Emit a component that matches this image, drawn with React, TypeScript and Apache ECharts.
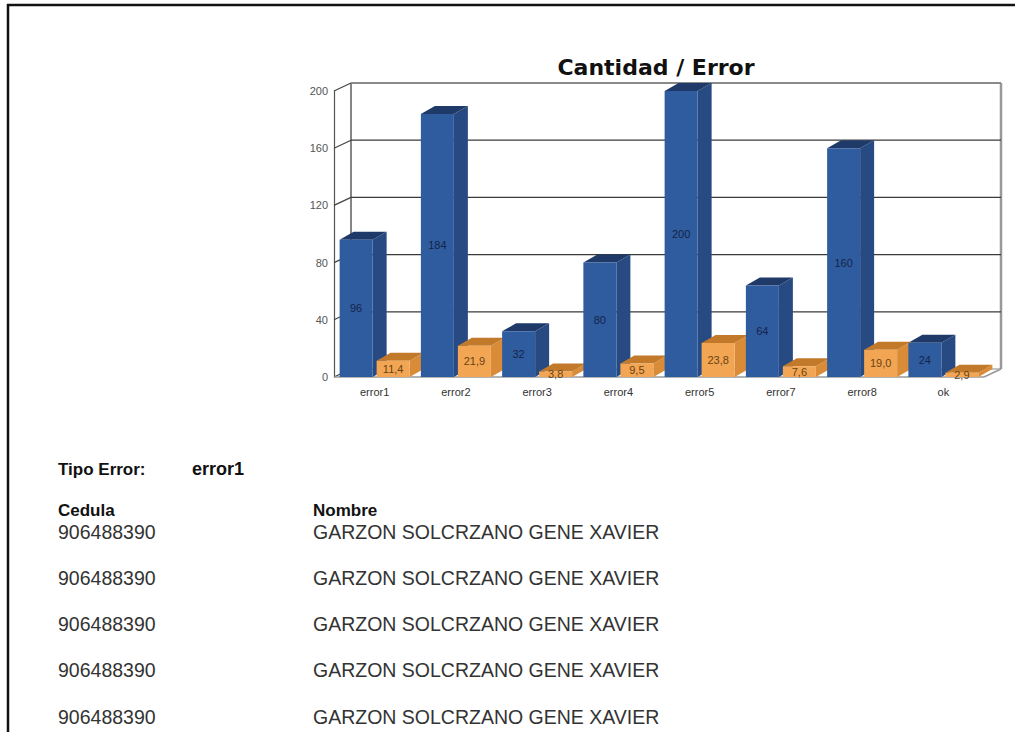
import React, { useEffect, useRef } from "react";
import * as echarts from "echarts";

const CATEGORIES = ["error1", "error2", "error3", "error4", "error5", "error7", "error8", "ok"];
const CANTIDAD = [96, 184, 32, 80, 200, 64, 160, 24];
const PORCENTAJE = [11.4, 21.9, 3.8, 9.5, 23.8, 7.6, 19.0, 2.9];
const Y_TICKS = [0, 40, 80, 120, 160, 200];
const TITLE = "Cantidad / Error";
const TIPO_ERROR = "error1";
const CEDULAS = ["906488390", "906488390", "906488390", "906488390", "906488390"];
const NOMBRES = [
  "GARZON SOLCRZANO GENE XAVIER",
  "GARZON SOLCRZANO GENE XAVIER",
  "GARZON SOLCRZANO GENE XAVIER",
  "GARZON SOLCRZANO GENE XAVIER",
  "GARZON SOLCRZANO GENE XAVIER",
];

const BAR_W = 33;
const GAP = 4;
const TOTAL = BAR_W * 2 + GAP;
const BAR_DX = 14;
const BAR_DY = 8;
const WALL_DX = 17;
const WALL_DY = 8;

const BLUE = { front: "#2f5c9f", top: "#1f3a68", side: "#274a82" };
const ORANGE = { front: "#f2a654", top: "#c27a2a", side: "#d98b38" };

function bar3D(idx: number, c: { top: string; side: string }) {
  return (params: any, api: any) => {
    const ci = api.value(0);
    const v = api.value(1);
    const [cx, yTop] = api.coord([ci, v]);
    const y0 = api.coord([ci, 0])[1];
    const left = cx - TOTAL / 2 + idx * (BAR_W + GAP);
    const right = left + BAR_W;
    return {
      type: "group",
      children: [
        {
          type: "polygon",
          shape: { points: [[right, yTop], [right + BAR_DX, yTop - BAR_DY], [right + BAR_DX, y0 - BAR_DY], [right, y0]] },
          style: { fill: c.side },
        },
        {
          type: "polygon",
          shape: { points: [[left, yTop], [right, yTop], [right + BAR_DX, yTop - BAR_DY], [left + BAR_DX, yTop - BAR_DY]] },
          style: { fill: c.top },
        },
      ],
    };
  };
}

function wall(params: any, api: any) {
  const cs = params.coordSys;
  const x0 = cs.x;
  const x1 = cs.x + cs.width;
  const v = api.value(1);
  const y = api.coord([0, v])[1];
  const yMax = api.coord([0, Y_TICKS[Y_TICKS.length - 1]])[1];
  const yMin = api.coord([0, Y_TICKS[0]])[1];
  const isTop = v === Y_TICKS[Y_TICKS.length - 1];
  const isBottom = v === Y_TICKS[0];
  const children: any[] = [
    {
      type: "line",
      shape: { x1: x0 + WALL_DX, y1: y - WALL_DY, x2: x1 + WALL_DX, y2: y - WALL_DY },
      style: { stroke: isTop ? "#8a8a8a" : isBottom ? "#b0b0b0" : "#3a3a3a", lineWidth: isTop ? 2 : 1.3 },
    },
    {
      type: "line",
      shape: { x1: x0, y1: y, x2: x0 + WALL_DX, y2: y - WALL_DY },
      style: { stroke: "#444", lineWidth: 1.2 },
    },
  ];
  if (isBottom) {
    children.push(
      {
        type: "line",
        shape: { x1: x0 + WALL_DX, y1: yMin - WALL_DY, x2: x0 + WALL_DX, y2: yMax - WALL_DY },
        style: { stroke: "#444", lineWidth: 1.3 },
      },
      {
        type: "line",
        shape: { x1: x1 + WALL_DX, y1: yMin - WALL_DY, x2: x1 + WALL_DX, y2: yMax - WALL_DY },
        style: { stroke: "#999", lineWidth: 2.5 },
      },
      {
        type: "line",
        shape: { x1: x1, y1: yMin, x2: x1 + WALL_DX, y2: yMin - WALL_DY },
        style: { stroke: "#999", lineWidth: 1.5 },
      },
      {
        type: "line",
        shape: { x1: x0, y1: yMin, x2: x1, y2: yMin },
        style: { stroke: "#999", lineWidth: 1.5 },
      }
    );
  }
  return { type: "group", children };
}

const pct = (p: any) => Number(p.value).toFixed(1).replace(".", ",");

export default function App() {
  const ref = useRef<HTMLDivElement>(null);
  useEffect(() => {
    const chart = echarts.init(ref.current!, null, { renderer: "svg" });
    const rowYs = [532, 578, 624, 670, 717];
    const boldFont = "bold 17px Arial, 'Liberation Sans', sans-serif";
    const rowFont = "19.5px Arial, 'Liberation Sans', sans-serif";
    const texts: any[] = [
      {
        type: "text",
        x: 656,
        y: 67,
        style: {
          text: TITLE,
          font: "bold 22px 'DejaVu Sans', Arial, sans-serif",
          fill: "#111",
          textAlign: "center",
          textVerticalAlign: "middle",
        },
      },
      { type: "text", x: 58, y: 469, style: { text: "Tipo Error:", font: boldFont, fill: "#111", textVerticalAlign: "middle" } },
      {
        type: "text",
        x: 192,
        y: 469,
        style: { text: TIPO_ERROR, font: "bold 18px Arial, 'Liberation Sans', sans-serif", fill: "#111", textVerticalAlign: "middle" },
      },
      { type: "text", x: 58, y: 510, style: { text: "Cedula", font: boldFont, fill: "#111", textVerticalAlign: "middle" } },
      { type: "text", x: 313, y: 510, style: { text: "Nombre", font: boldFont, fill: "#111", textVerticalAlign: "middle" } },
    ];
    CEDULAS.forEach((c, i) => {
      texts.push({ type: "text", x: 58, y: rowYs[i], style: { text: c, font: rowFont, fill: "#333", textVerticalAlign: "middle" } });
    });
    NOMBRES.forEach((n, i) => {
      texts.push({ type: "text", x: 313, y: rowYs[i], style: { text: n, font: rowFont, fill: "#333", textVerticalAlign: "middle" } });
    });
    chart.setOption({
      animation: false,
      backgroundColor: "#fff",
      grid: { left: 334, right: 31, top: 91, bottom: 355 },
      xAxis: {
        type: "category",
        data: CATEGORIES,
        axisLine: { show: false },
        axisTick: { show: false },
        axisLabel: { color: "#333", fontSize: 11, fontFamily: "Arial, sans-serif", margin: 9 },
      },
      yAxis: {
        type: "value",
        min: 0,
        max: 200,
        interval: 40,
        axisLine: { show: true, lineStyle: { color: "#555", width: 1.2 } },
        axisTick: { show: false },
        splitLine: { show: false },
        axisLabel: { color: "#555", fontSize: 11, fontFamily: "Arial, sans-serif", margin: 6 },
      },
      series: [
        {
          type: "custom",
          z: 1,
          renderItem: wall,
          data: Y_TICKS.map((v) => [0, v]),
          encode: { x: 0, y: 1 },
          silent: true,
        },
        {
          type: "custom",
          z: 2,
          renderItem: bar3D(0, BLUE),
          data: CANTIDAD.map((v, i) => [i, v]),
          encode: { x: 0, y: 1 },
        },
        {
          type: "custom",
          z: 3,
          renderItem: bar3D(1, ORANGE),
          data: PORCENTAJE.map((v, i) => [i, v]),
          encode: { x: 0, y: 1 },
        },
        {
          type: "bar",
          z: 4,
          data: CANTIDAD,
          barWidth: BAR_W,
          barGap: (GAP / BAR_W) * 100 + "%",
          itemStyle: { color: BLUE.front },
          label: { show: true, position: "inside", color: "#14244a", fontSize: 11, fontFamily: "Arial, sans-serif" },
        },
        {
          type: "bar",
          z: 4,
          data: PORCENTAJE,
          barWidth: BAR_W,
          barGap: (GAP / BAR_W) * 100 + "%",
          itemStyle: { color: ORANGE.front },
          label: {
            show: true,
            position: "inside",
            color: "#6b4210",
            fontSize: 11,
            fontFamily: "Arial, sans-serif",
            formatter: pct,
          },
        },
      ],
      graphic: [
        { type: "line", shape: { x1: 7, y1: 5, x2: 1015, y2: 5 }, style: { stroke: "#111", lineWidth: 2.5 } },
        { type: "line", shape: { x1: 8, y1: 4, x2: 8, y2: 732 }, style: { stroke: "#111", lineWidth: 2.5 } },
        ...texts,
      ],
    });
    return () => chart.dispose();
  }, []);
  return <div ref={ref} style={{ position: "absolute", left: 0, top: 0, width: 1015, height: 732 }} />;
}
